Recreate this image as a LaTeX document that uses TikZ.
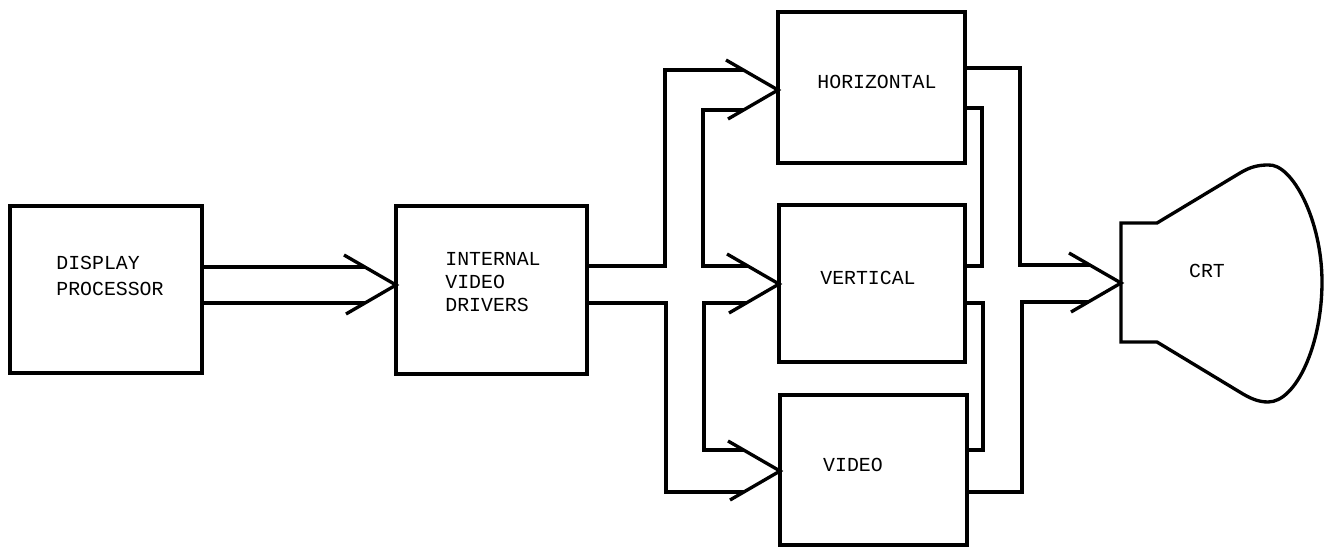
\documentclass[tikz,border=0pt]{standalone}
\usepackage{fontspec}
\setmainfont{Liberation Mono}
\usetikzlibrary{calc}
\tikzset{
  wire/.style={line width=1.9pt, line join=miter},
  blk/.style={draw, line width=1.9pt, inner sep=0pt, outer sep=0pt, rectangle},
  lbl/.style={inner sep=0pt, font=\fontsize{11.3}{13.5}\selectfont},
}
\begin{document}
\begin{tikzpicture}[x=0.02cm, y=-0.02cm]
\useasboundingbox (0,0) rectangle (1326,548);
% blocks
\node[blk, minimum width=3.84cm, minimum height=3.34cm] (dp)  at (106,289.5) {};
\node[blk, minimum width=3.82cm, minimum height=3.36cm] (ivd) at (491.5,290) {};
\node[blk, minimum width=3.74cm, minimum height=3.02cm] (hor) at (871.5,87.5) {};
\node[blk, minimum width=3.72cm, minimum height=3.14cm] (ver) at (872,283.5) {};
\node[blk, minimum width=3.74cm, minimum height=3.00cm] (vid) at (873.5,470) {};
% CRT
\coordinate (crtin) at (1121,283);
\draw[wire] (1157,223) -- (1121,223) -- (1121,342) -- (1157,342) -- (1243,394)
  .. controls (1250,398) and (1258,402) .. (1268,402)
  .. controls (1296,402) and (1322,345) .. (1322,282)
  .. controls (1322,220) and (1292,163) .. (1268,165)
  .. controls (1258,165) and (1250,167) .. (1240,173) -- cycle;
% labels
\node[lbl, anchor=west, align=left, font=\fontsize{11.3}{14.5}\selectfont] (tdp) at (56,276) {DISPLAY\\PROCESSOR};
\node[lbl, anchor=west, align=left, font=\fontsize{11.3}{13}\selectfont] (tivd) at (445,282) {INTERNAL\\VIDEO\\DRIVERS};
\node[lbl] (thor) at (877,82) {HORIZONTAL};
\node[lbl] (tver) at (868,278) {VERTICAL};
\node[lbl] (tvid) at (853,465) {VIDEO};
\node[lbl] (tcrt) at (1207,271) {CRT};
% arrow tips
\coordinate (t1) at (ivd.west |- 0,285);
\coordinate (t2) at (hor.west |- 0,90);
\coordinate (t3) at (ver.west |- 0,284);
\coordinate (t4) at (vid.west |- 0,471);
\foreach \t in {t1,t2,t3,t4,crtin}
  \draw[wire] ($(\t)+(-52,-30)$) -- (\t) -- ($(\t)+(-50,29)$);
% display processor -> internal video drivers
\draw[wire] (dp.east |- 0,267) -- (365,267);
\draw[wire] (dp.east |- 0,303) -- (365,303);
% bus from internal video drivers
\draw[wire] (ivd.east |- 0,266) -- (665,266) -- (665,70) -- (743,70);
\draw[wire] (743,110) -- (703,110) -- (703,266) -- (748,266);
\draw[wire] (746,303) -- (704,303) -- (704,450) -- (744,450);
\draw[wire] (ivd.east |- 0,303) -- (666,303) -- (666,492) -- (744,492);
% bus to CRT
\draw[wire] (hor.east |- 0,68) -- (1020,68) -- (1020,265) -- (1090,265);
\draw[wire] (hor.east |- 0,108) -- (982,108) -- (982,266) -- (ver.east |- 0,266);
\draw[wire] (ver.east |- 0,303) -- (983,303) -- (983,450) -- (vid.east |- 0,450);
\draw[wire] (vid.east |- 0,492) -- (1022,492) -- (1022,302) -- (1088,302);
\end{tikzpicture}
\end{document}
